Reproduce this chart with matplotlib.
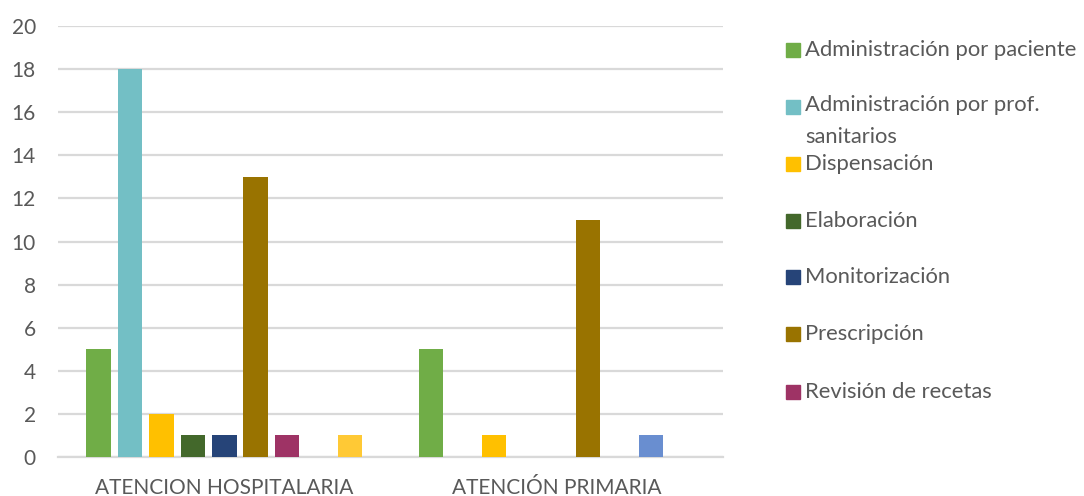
import matplotlib
matplotlib.use("Agg")
import matplotlib.pyplot as plt
from matplotlib.patches import Rectangle
import numpy as np

plt.rcParams["font.family"] = ["Lato", "DejaVu Sans"]

# Care settings on the x axis
settings = ["ATENCION HOSPITALARIA", "ATENCIÓN PRIMARIA"]

# Error stage per series (last two have no legend entry)
series_labels = [
    "Administración por paciente",
    "Administración por prof.\nsanitarios",
    "Dispensación",
    "Elaboración",
    "Monitorización",
    "Prescripción",
    "Revisión de recetas",
    None,
    None,
]
series_colors = [
    "#70AD47", "#73BFC5", "#FFC000", "#43682B", "#264478",
    "#997300", "#9E3365", "#698ED0", "#FFC935",
]

hospital = [5, 18, 2, 1, 1, 13, 1, 0, 1]
primaria = [5, 0, 1, 0, 0, 11, 0, 1, 0]

y_ticks = [0, 2, 4, 6, 8, 10, 12, 14, 16, 18, 20]

text_color = "#595959"
grid_color = "#D9D9D9"

W, H = 1084, 496
fig = plt.figure(figsize=(W / 100, H / 100), dpi=100)
ax = fig.add_axes([58 / W, 1 - 457 / H, (723 - 58) / W, (457 - 26) / H])

n = len(series_labels)
stride = 0.0947
bar_w = 0.0737
x = np.arange(len(settings))
for i in range(n):
    vals = [hospital[i], primaria[i]]
    ax.bar(x + (i - (n - 1) / 2) * stride, vals, width=bar_w,
           color=series_colors[i], zorder=3)

ax.set_xlim(-0.5, 1.5)
ax.set_ylim(0, 20)
ax.set_yticks(y_ticks)
ax.set_xticks(x)
ax.set_xticklabels(settings)
ax.tick_params(axis="both", length=0, labelsize=15, colors=text_color)
ax.tick_params(axis="y", pad=16)
ax.tick_params(axis="x", pad=15)
ax.grid(axis="y", color=grid_color, linewidth=1.6, zorder=0)
for side in ["top", "right", "left"]:
    ax.spines[side].set_visible(False)
ax.spines["bottom"].set_color(grid_color)
ax.spines["bottom"].set_linewidth(1.6)

# Legend drawn by hand so the wrapped entry keeps its spacing
legend_rows = [50, 107, 164, 221, 277, 334, 392]
row = 0
for label, color in zip(series_labels, series_colors):
    if label is None:
        continue
    yc = legend_rows[row]
    fig.patches.append(Rectangle((786 / W, 1 - (yc + 7) / H), 14 / W, 14 / H,
                                 transform=fig.transFigure, color=color))
    if "\n" in label:
        fig.text(805 / W, 1 - (yc - 12) / H, label, fontsize=15.8,
                 color=text_color, va="top", linespacing=1.75)
    else:
        fig.text(805 / W, 1 - yc / H, label, fontsize=15.8,
                 color=text_color, va="center")
    row += 1

fig.savefig("out.png", dpi=100)
